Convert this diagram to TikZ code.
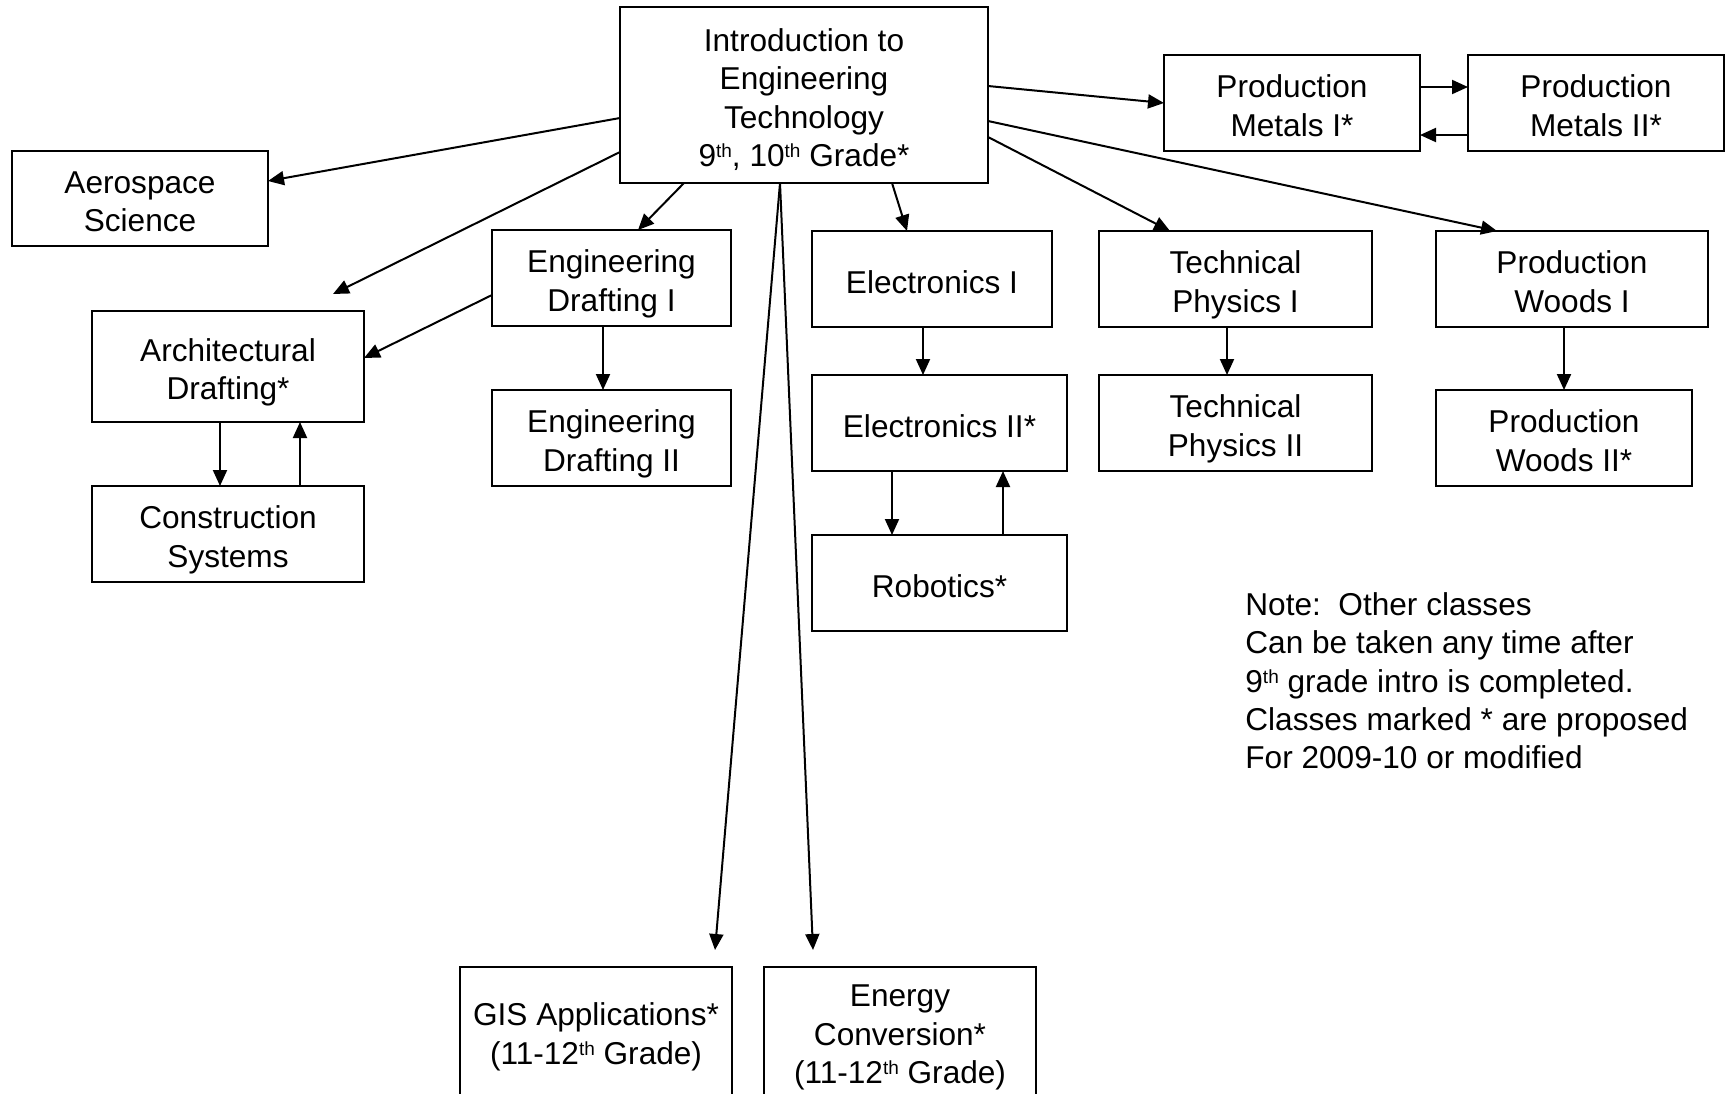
\documentclass[tikz,border=0pt]{standalone}
\usepackage{fontspec}
\setmainfont{Liberation Sans}
\usetikzlibrary{arrows.meta}

% small raised ordinal suffix
\newcommand{\ordsfx}[1]{\raisebox{4.5pt}{\fontsize{9.5}{9.5}\selectfont #1}}
% text block with fixed top and bottom extent, so all boxes centre alike
\newcommand{\blk}[1]{\rule{0pt}{18pt}#1\rule[-4pt]{0pt}{4pt}}

\begin{document}
\begin{tikzpicture}[x=0.5pt, y=-0.5pt,
  course/.style={draw, line width=1pt, inner sep=0pt, outer sep=0pt,
    anchor=north west, align=center, font=\fontsize{15.8}{19.1}\selectfont},
  arr/.style={-{Triangle[length=8pt,width=7pt]}, line width=1pt},
  note/.style={inner sep=0pt, anchor=west, align=left,
    font=\fontsize{15.8}{19.1}\selectfont}]

\useasboundingbox (0,0) rectangle (1729,1093);
\clip (0,0) rectangle (1729,1093);

% course boxes
\node[course, minimum width=184pt, minimum height=88pt] (intro) at (620,7)
  {\blk{Introduction to\\Engineering\\Technology\\9\ordsfx{th}, 10\ordsfx{th} Grade*}};
\node[course, minimum width=128pt, minimum height=47.5pt] (aero) at (12,151) {\blk{Aerospace\\Science}};
\node[course, minimum width=136pt, minimum height=55.5pt] (arch) at (92,311) {\blk{Architectural\\Drafting*}};
\node[course, minimum width=136pt, minimum height=48pt] (constr) at (92,486) {\blk{Construction\\Systems}};
\node[course, minimum width=119.5pt, minimum height=48pt] (edI) at (492,230) {\blk{Engineering\\Drafting I}};
\node[course, minimum width=119.5pt, minimum height=48pt] (edII) at (492,390) {\blk{Engineering\\Drafting II}};
\node[course, minimum width=120pt, minimum height=48pt] (elecI) at (812,231) {\blk{Electronics I}};
\node[course, minimum width=127.5pt, minimum height=48pt] (elecII) at (812,375) {\blk{Electronics II*}};
\node[course, minimum width=127.5pt, minimum height=48pt] (robot) at (812,535) {\blk{Robotics*}};
\node[course, minimum width=136.5pt, minimum height=48pt] (tpI) at (1099,231) {\blk{Technical\\Physics I}};
\node[course, minimum width=136.5pt, minimum height=48pt] (tpII) at (1099,375) {\blk{Technical\\Physics II}};
\node[course, minimum width=136pt, minimum height=48pt] (woodsI) at (1436,231) {\blk{Production\\Woods I}};
\node[course, minimum width=128pt, minimum height=48pt] (woodsII) at (1436,390) {\blk{Production\\Woods II*}};
\node[course, minimum width=128pt, minimum height=48pt] (metI) at (1164,55) {\blk{Production\\Metals I*}};
\node[course, minimum width=128pt, minimum height=48pt] (metII) at (1468,55) {\blk{Production\\Metals II*}};
\node[course, minimum width=136pt, minimum height=64pt] (gis) at (460,967)
  {\blk{GIS Applications*\\(11-12\ordsfx{th} Grade)}};
\node[course, minimum width=136pt, minimum height=64pt] (energy) at (764,967)
  {\blk{Energy\\Conversion*\\(11-12\ordsfx{th} Grade)}};

% note
\node[note] (notes) at (1245,678)
  {\blk{Note:\ \ Other classes\\Can be taken any time after\\9\ordsfx{th} grade intro is completed.\\Classes marked * are proposed\\For 2009-10 or modified}};

% free arrow end above the architectural box
\coordinate (archtip) at (333,294);

% connectors from the introduction course
\draw[arr] ([yshift=-55.5pt]intro.north west) -- ([yshift=-15pt]aero.north east);
\draw[arr] ([yshift=-72.5pt]intro.north west) -- (archtip);
\draw[arr] ([xshift=32pt]intro.south west) -- ([xshift=73pt]edI.north west);
\draw[arr] ([xshift=80pt]intro.south west) -- ([xshift=127.5pt,yshift=8.5pt]gis.north west);
\draw[arr] ([xshift=80pt]intro.south west) -- ([xshift=24.5pt,yshift=8.5pt]energy.north west);
\draw[arr] ([xshift=136pt]intro.south west) -- ([xshift=47.5pt]elecI.north west);
\draw[arr] ([yshift=-65pt]intro.north east) -- ([xshift=35.5pt]tpI.north west);
\draw[arr] ([yshift=-57pt]intro.north east) -- ([xshift=30.5pt]woodsI.north west);
\draw[arr] ([yshift=-39.5pt]intro.north east) -- ([yshift=-24pt]metI.north west);

% connectors between courses
\draw[arr] ([yshift=-32.5pt]edI.north west) -- ([yshift=-23.5pt]arch.north east);
\draw[arr] ([yshift=-16pt]metI.north east) -- ([yshift=-16pt]metII.north west);
\draw[arr] ([yshift=-40pt]metII.north west) -- ([yshift=-40pt]metI.north east);
\draw[arr] ([xshift=64pt]arch.south west) -- ([xshift=64pt]constr.north west);
\draw[arr] ([xshift=104pt]constr.north west) -- ([xshift=104pt]arch.south west);
\draw[arr] ([xshift=55.5pt]edI.south west) -- ([xshift=55.5pt]edII.north west);
\draw[arr] ([xshift=55.5pt]elecI.south west) -- ([xshift=55.5pt]elecII.north west);
\draw[arr] ([xshift=40pt]elecII.south west) -- ([xshift=40pt]robot.north west);
\draw[arr] ([xshift=95.5pt]robot.north west) -- ([xshift=95.5pt]elecII.south west);
\draw[arr] ([xshift=64pt]tpI.south west) -- ([xshift=64pt]tpII.north west);
\draw[arr] ([xshift=64pt]woodsI.south west) -- ([xshift=64pt]woodsII.north west);

\end{tikzpicture}
\end{document}
